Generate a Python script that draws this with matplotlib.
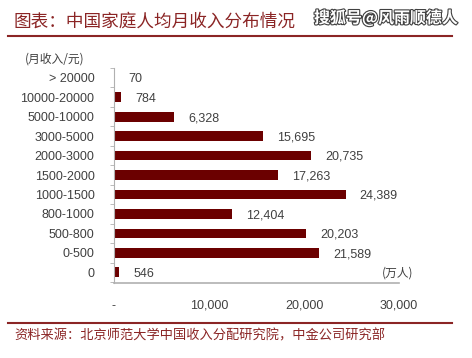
import matplotlib.pyplot as plt
import matplotlib.patheffects as pe
from matplotlib.ticker import FixedLocator, FuncFormatter

plt.rcParams['font.family'] = ['Liberation Sans', 'Noto Sans CJK SC', 'DejaVu Sans']

categories = ['0', '0-500', '500-800', '800-1000', '1000-1500', '1500-2000',
              '2000-3000', '3000-5000', '5000-10000', '10000-20000', '> 20000']
values = [546, 21589, 20203, 12404, 24389, 17263, 20735, 15695, 6328, 784, 70]
x_ticks = [0, 10000, 20000, 30000]

title = '图表：中国家庭人均月收入分布情况'
source = '资料来源：北京师范大学中国收入分配研究院，中金公司研究部'
watermark = '搜狐号@风雨顺德人'

bar_color = '#6b0000'
red = '#8b2525'
text_color = '#404040'
cjk = ['Noto Sans CJK SC', 'DejaVu Sans']

fig = plt.figure(figsize=(4.72, 3.58), dpi=100)
ax = fig.add_axes([114 / 472, 1 - 283 / 358, (399 - 114) / 472, (283 - 68) / 358])

pos = list(range(len(categories)))
ax.barh(pos, values, height=0.5, color=bar_color)
for p, v in zip(pos, values):
    ax.annotate(f'{v:,}', (v, p), xytext=(10, -1), textcoords='offset points',
                va='center', ha='left', fontsize=9, color=text_color)

ax.set_xlim(0, 30000)
ax.set_ylim(-0.55, len(categories) - 0.5)
ax.set_yticks(pos)
ax.set_yticklabels(categories)
ax.yaxis.set_minor_locator(FixedLocator([p + 0.5 for p in pos[:-1]] + [-0.5, len(pos) - 0.5]))
ax.tick_params(axis='y', which='major', length=0, pad=14, labelsize=9, labelcolor=text_color)
ax.tick_params(axis='y', which='minor', length=3, color='#b0b0b0', direction='out')

ax.set_xticks(x_ticks)
ax.xaxis.set_major_formatter(FuncFormatter(lambda v, _: '-' if v == 0 else f'{int(v):,}'))
ax.tick_params(axis='x', length=0, pad=12, labelsize=9, labelcolor=text_color)

for s in ['top', 'right']:
    ax.spines[s].set_visible(False)
ax.spines['left'].set_color('#b0b0b0')
ax.spines['bottom'].set_color('#b0b0b0')
ax.spines['bottom'].set_linewidth(1.2)

# header / footer
fig.text(14 / 472, 1 - 22 / 358, title, family=cjk, style='italic', fontsize=12.7,
         color=red, va='center', ha='left')
fig.text(458 / 472, 1 - 18 / 358, watermark, family=cjk, fontsize=11.5, weight='bold',
         color='white', va='center', ha='right',
         path_effects=[pe.withStroke(linewidth=1.6, foreground='#404040')])
fig.add_artist(plt.Line2D([8 / 472, 452 / 472], [1 - 36 / 358] * 2, color=red, lw=1.5))
fig.add_artist(plt.Line2D([8 / 472, 452 / 472], [1 - 323 / 358] * 2, color=red, lw=1.5))
fig.text(14 / 472, 1 - 336 / 358, source, family=cjk, style='italic', fontsize=9.5,
         color=red, va='center', ha='left')

fig.text(25 / 472, 1 - 59 / 358, '(月收入/元)', family=cjk, fontsize=8.5,
         color=text_color, va='center', ha='left')
fig.text(398 / 472, 1 - 273 / 358, '(万人)', family=cjk, fontsize=8.5,
         color=text_color, va='center', ha='center')

fig.savefig('out.png', dpi=100)
